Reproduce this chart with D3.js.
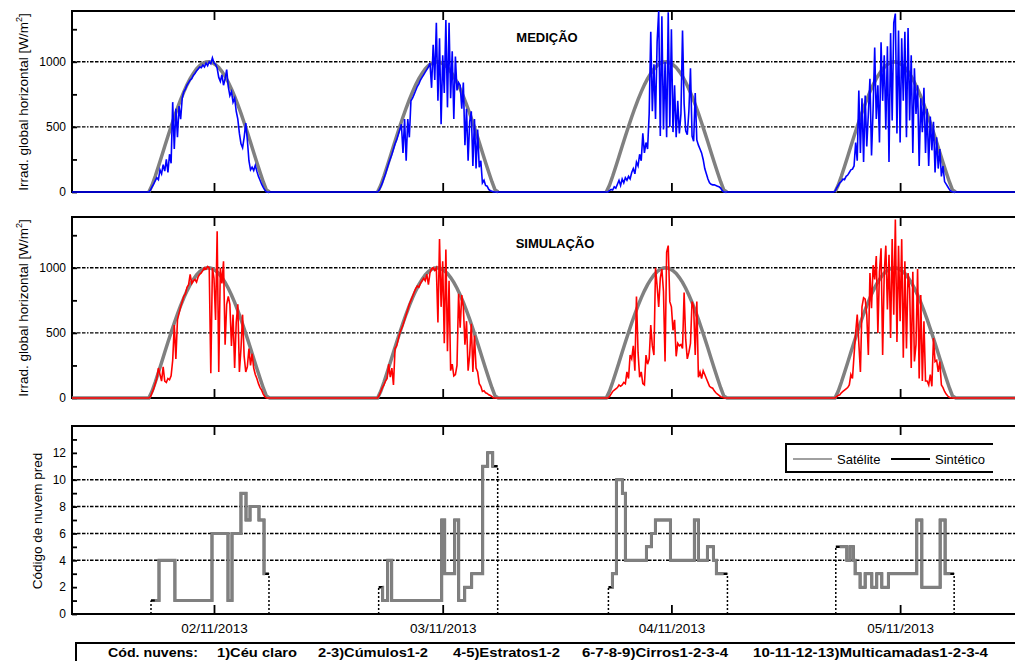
<!DOCTYPE html>
<html>
<head>
<meta charset="utf-8">
<script src="https://cdn.jsdelivr.net/npm/d3@7/dist/d3.min.js"></script>
<style>
  body { margin: 0; background: #fff; }
  svg text { font-family: "Liberation Sans", Arial, sans-serif; fill: #000; }
</style>
</head>
<body>
<svg width="1015" height="661"></svg>
<script>
(function (d3) {

  // dias do eixo x (marca ao meio-dia)
  const dias = ['02/11/2013', '03/11/2013', '04/11/2013', '05/11/2013'];
  const meioDia = [12, 36, 60, 84];

  // irradiancia de ceu claro [W/m2], 20 em 20 min a partir das 05:10
  const ceuClaro = [0, 52, 121, 196, 273, 351, 428, 503, 576, 645,
    709, 769, 823, 870, 911, 945, 970, 988, 998, 1000,
    993, 978, 956, 925, 888, 843, 791, 734, 671, 604,
    532, 458, 382, 304, 227, 151, 79, 15, 0];

  // medicao [W/m2], 10 em 10 min a partir das 05:00
  const medicao02 = [0, 0, 15, 40, 60, 85, 110, 95, 170, 140,
    210, 160, 250, 150, 290, 220, 690, 330, 640, 420,
    660, 560, 720, 770, 790, 820, 840, 860, 870, 895,
    910, 930, 945, 960, 955, 975, 960, 990, 970, 1000,
    985, 1030, 990, 980, 950, 880, 850, 900, 820, 870,
    940, 810, 740, 770, 690, 720, 620, 560, 450, 370,
    340, 420, 530, 400, 240, 170, 190, 165, 205, 160,
    120, 90, 60, 35, 15, 0, 0, 0];
  const medicao03 = [0, 0, 15, 40, 70, 105, 140, 180, 220, 255,
    290, 330, 370, 400, 440, 480, 520, 300, 560, 240,
    560, 420, 700, 720, 750, 780, 810, 830, 860, 880,
    900, 920, 940, 960, 990, 800, 1130, 860, 1300, 700,
    1180, 520, 1050, 760, 1320, 650, 1300, 720, 1080, 560,
    1040, 780, 840, 820, 640, 840, 360, 640, 240, 540,
    620, 200, 560, 180, 480, 190, 240, 70, 90, 50,
    45, 20, 10, 5, 0, 0, 0, 0];
  const medicao04 = [0, 0, 0, 10, 20, 15, 40, 30, 60, 90,
    50, 100, 70, 110, 90, 120, 100, 150, 180, 140,
    230, 200, 290, 240, 450, 300, 380, 330, 600, 1230,
    620, 980, 560, 1150, 1390, 430, 1350, 480, 1000, 420,
    1380, 500, 1250, 460, 820, 420, 700, 450, 600, 1240,
    680, 470, 440, 620, 950, 430, 390, 760, 400, 360,
    330, 300, 250, 180, 140, 100, 70, 60, 55, 55,
    50, 45, 40, 30, 10, 0, 0, 0];
  const medicao05 = [0, 5, 30, 50, 70, 80, 100, 95, 120, 130,
    150, 170, 175, 200, 380, 240, 780, 300, 720, 230,
    740, 350, 600, 870, 280, 640, 1110, 560, 820, 380,
    1150, 700, 1050, 480, 1120, 230, 1220, 550, 1300, 1370,
    450, 1240, 380, 1180, 700, 1230, 420, 1260, 550, 1050,
    300, 950, 600, 820, 200, 720, 460, 800, 300, 640,
    200, 580, 320, 540, 150, 420, 180, 330, 120, 200,
    80, 60, 40, 20, 5, 0, 0, 0];

  // simulacao [W/m2], 10 em 10 min a partir das 05:00
  const simulacao02 = [0, 0, 10, 40, 70, 110, 150, 230, 180, 130,
    240, 130, 120, 150, 140, 170, 290, 560, 300, 600,
    650, 700, 740, 780, 800, 850, 870, 950, 880, 900,
    910, 890, 930, 950, 960, 980, 1000, 990, 1010, 1000,
    190, 1000, 920, 600, 1280, 200, 1000, 880, 1050, 410,
    720, 780, 720, 400, 640, 230, 580, 720, 200, 380,
    640, 320, 200, 240, 380, 250, 340, 230, 180, 150,
    110, 80, 60, 30, 10, 0, 0, 0];
  const simulacao03 = [0, 0, 20, 50, 80, 100, 130, 150, 260, 160,
    230, 100, 380, 400, 450, 500, 530, 560, 600, 640,
    680, 720, 750, 780, 810, 840, 860, 850, 880, 900,
    920, 900, 950, 870, 960, 990, 1000, 980, 1000, 580,
    1220, 700, 1050, 420, 1140, 360, 900, 210, 260, 170,
    180, 250, 800, 540, 790, 700, 410, 590, 210, 330,
    570, 200, 480, 230, 200, 110, 90, 50, 55, 40,
    35, 25, 20, 10, 0, 0, 0, 0];
  const simulacao04 = [0, 0, 0, 10, 30, 50, 60, 70, 80, 100,
    90, 100, 120, 110, 200, 150, 330, 300, 400, 210,
    780, 350, 160, 200, 110, 100, 330, 260, 300, 560,
    400, 330, 1000, 860, 700, 920, 990, 820, 280, 1120,
    1170, 740, 700, 520, 600, 320, 420, 400, 410, 380,
    810, 450, 300, 350, 420, 740, 700, 330, 740, 160,
    200, 150, 210, 180, 150, 120, 90, 80, 75, 55,
    40, 30, 20, 10, 5, 0, 0, 0];
  const simulacao05 = [0, 0, 10, 20, 25, 40, 50, 60, 70, 80,
    100, 180, 150, 330, 500, 640, 420, 200, 700, 770,
    760, 640, 330, 960, 690, 1020, 910, 1090, 500, 970,
    1150, 330, 960, 1170, 680, 1100, 460, 1220, 640, 1370,
    430, 1170, 590, 1220, 310, 1050, 380, 960, 840, 230,
    970, 280, 410, 990, 150, 790, 130, 590, 130, 130,
    100, 180, 90, 460, 280, 290, 200, 280, 100, 80,
    50, 30, 15, 5, 0, 0, 0, 0];

  // codigo de nuvem: [hora local, codigo]; o ultimo ponto marca o fim
  const nuvens02 = [[5.39, 1], [6.23, 4], [7.9, 1], [11.79, 6], [13.47, 1], [13.89, 6],
    [14.83, 9], [15.36, 7], [15.78, 8], [16.72, 7], [17.25, 3], [17.77, 3]];
  const nuvens03 = [[5.28, 2], [5.7, 1], [6.23, 4], [6.65, 1], [11.9, 7], [12.21, 3],
    [13.26, 7], [13.68, 1], [14.31, 2], [15.04, 3], [16.2, 11], [16.72, 12], [17.25, 11], [17.77, 11]];
  const nuvens04 = [[5.39, 2], [5.81, 3], [6.23, 10], [6.86, 9], [7.17, 4], [9.38, 5],
    [9.9, 6], [10.32, 7], [11.9, 4], [14.41, 7], [14.83, 4], [15.78, 5], [16.41, 4], [16.72, 3], [17.88, 3]];
  const nuvens05 = [[5.25, 5], [6.41, 4], [6.75, 5], [7.1, 4], [7.28, 3], [7.8, 2],
    [8.33, 3], [9.03, 2], [9.55, 3], [10.08, 2], [10.77, 3], [13.75, 7], [14.28, 2],
    [16.2, 7], [16.72, 3], [17.67, 3]];

  const legendaNuvens = ['Cód. nuvens:', '1)Céu claro', '2-3)Cúmulos1-2', '4-5)Estratos1-2',
    '6-7-8-9)Cirros1-2-3-4', '10-11-12-13)Multicamadas1-2-3-4'];

  const svg = d3.select('svg');
  const xEsq = 72, xDir = 1015;

  const x = d3.scaleLinear().domain([-2.9, 97]).range([72, 1024]);
  const yMed = d3.scaleLinear().domain([0, 1390]).range([192, 11]);
  const ySim = d3.scaleLinear().domain([0, 1390]).range([398, 217]);
  const yNuv = d3.scaleLinear().domain([0, 14]).range([614, 426]);

  const serie = (porDia, t0, dt) => porDia.flatMap((vals, k) =>
    vals.map((v, i) => ({ t: 24 * k + t0 + i * dt, v })));
  const inteira = pts => [{ t: x.domain()[0], v: 0 }, ...pts, { t: x.domain()[1], v: 0 }];

  const dash = '3.5,1.5,3.5,1.5,3.5,1.5,1.5,1.5';

  const moldura = (y, grade, maiores, menores, rotulosX) => {
    const [yBase, yTopo] = y.range();
    const g = svg.append('g');

    g.selectAll('line.grade').data(grade).enter().append('line')
      .attr('class', 'grade')
      .attr('x1', xEsq).attr('x2', xDir)
      .attr('y1', d => y(d)).attr('y2', d => y(d))
      .attr('stroke', '#000').attr('stroke-width', 1.4)
      .attr('stroke-dasharray', dash);

    const eixoY = g.append('g').attr('transform', `translate(${xEsq},0)`)
      .call(d3.axisLeft(y).tickValues(maiores).tickSize(-5).tickPadding(6)
        .tickFormat(d3.format('d')));
    const eixoYm = g.append('g').attr('transform', `translate(${xEsq},0)`)
      .call(d3.axisLeft(y).tickValues(menores).tickSize(-5).tickFormat(''));

    const eixoXb = g.append('g').attr('transform', `translate(0,${yBase})`)
      .call(d3.axisBottom(x).tickValues(meioDia).tickSize(-9).tickPadding(9)
        .tickFormat((d, i) => rotulosX ? dias[i] : ''));
    const eixoXt = g.append('g').attr('transform', `translate(0,${yTopo})`)
      .call(d3.axisTop(x).tickValues(meioDia).tickSize(-9).tickFormat(''));

    [eixoY, eixoYm, eixoXb, eixoXt].forEach(a => {
      a.select('.domain').remove();
      a.selectAll('.tick line').attr('stroke-width', 1.8);
      a.attr('font-family', null).attr('font-size', null);
    });
    eixoY.selectAll('text').style('font-size', '12px');
    eixoXb.selectAll('text').style('font-size', '13.5px');

    g.append('path')
      .attr('d', `M${xDir + 5},${yTopo}H${xEsq}V${yBase}H${xDir + 5}`)
      .attr('fill', 'none').attr('stroke', '#000').attr('stroke-width', 2);

    const id = 'clip' + Math.round(yTopo);
    svg.append('clipPath').attr('id', id).append('rect')
      .attr('x', xEsq).attr('y', yTopo).attr('width', xDir - xEsq).attr('height', yBase - yTopo + 2);
    return svg.append('g').attr('clip-path', `url(#${id})`);
  };

  const linha = y => d3.line().x(d => x(d.t)).y(d => y(d.v));

  // ---- MEDICAO
  const gMed = moldura(yMed, [500, 1000], [0, 500, 1000], [250, 750, 1250], false);
  [0, 1, 2, 3].forEach(k => {
    gMed.append('path')
      .datum(serie([ceuClaro], 24 * k + 5 + 1 / 6, 1 / 3))
      .attr('d', linha(yMed))
      .attr('fill', 'none').attr('stroke', '#808080').attr('stroke-width', 3.5);
  });
  gMed.append('path')
    .datum(inteira(serie([medicao02, medicao03, medicao04, medicao05], 5, 1 / 6)))
    .attr('d', linha(yMed))
    .attr('fill', 'none').attr('stroke', '#0000ff').attr('stroke-width', 1.6);

  // ---- SIMULACAO
  const gSim = moldura(ySim, [500, 1000], [0, 500, 1000], [250, 750, 1250], false);
  gSim.append('path')
    .datum(inteira(serie([ceuClaro, ceuClaro, ceuClaro, ceuClaro], 5 + 1 / 6, 1 / 3)
      .sort((a, b) => a.t - b.t)))
    .attr('d', linha(ySim))
    .attr('fill', 'none').attr('stroke', '#808080').attr('stroke-width', 3.5);
  gSim.append('path')
    .datum(inteira(serie([simulacao02, simulacao03, simulacao04, simulacao05], 5, 1 / 6)))
    .attr('d', linha(ySim))
    .attr('fill', 'none').attr('stroke', '#ff0000').attr('stroke-width', 1.6);

  // ---- CODIGO DE NUVEM
  const gNuv = moldura(yNuv, [4, 6, 8, 10], [0, 2, 4, 6, 8, 10, 12], [1, 3, 5, 7, 9, 11, 13], true);
  const degrau = d3.line().x(d => x(d.t)).y(d => yNuv(d.v)).curve(d3.curveStepAfter);
  [nuvens02, nuvens03, nuvens04, nuvens05].forEach((dia, k) => {
    const pts = dia.map(([h, v]) => ({ t: 24 * k + h, v }));
    const ini = pts[0], fim = pts[pts.length - 1];
    [ini, fim].forEach(p => {
      gNuv.append('line')
        .attr('x1', x(p.t)).attr('x2', x(p.t))
        .attr('y1', yNuv(0)).attr('y2', yNuv(p.v))
        .attr('stroke', '#000').attr('stroke-width', 1.5).attr('stroke-dasharray', '2,2');
    });
    gNuv.append('path').datum(pts).attr('d', degrau)
      .attr('fill', 'none').attr('stroke', '#000').attr('stroke-width', 2.5);
    const sat = pts.map(p => ({ ...p }));
    sat[0].t = Math.min(sat[0].t + 0.4, sat[1].t);
    sat[sat.length - 1].t -= 0.4;
    gNuv.append('path').datum(sat).attr('d', degrau)
      .attr('fill', 'none').attr('stroke', '#808080').attr('stroke-width', 3);
  });

  // ---- titulos
  svg.append('text').attr('x', 547).attr('y', 42).attr('text-anchor', 'middle')
    .style('font-size', '13px').style('font-weight', 'bold').text('MEDIÇÃO');
  svg.append('text').attr('x', 555).attr('y', 248).attr('text-anchor', 'middle')
    .style('font-size', '13px').style('font-weight', 'bold').text('SIMULAÇÃO');

  // ---- rotulos dos eixos y
  const rotuloIrr = (cx, cy) => {
    const t = svg.append('text')
      .attr('transform', `translate(${cx},${cy}) rotate(-90)`)
      .attr('text-anchor', 'middle').style('font-size', '13.5px');
    t.append('tspan').text('Irrad. global horizontal [W/m');
    t.append('tspan').attr('dy', -6).style('font-size', '9px').text('2');
    t.append('tspan').attr('dy', 6).text(']');
  };
  rotuloIrr(28, 102);
  rotuloIrr(28, 308);
  svg.append('text')
    .attr('transform', 'translate(42,521) rotate(-90)')
    .attr('text-anchor', 'middle').style('font-size', '13.5px')
    .text('Código de nuvem pred');

  // ---- legenda
  const leg = svg.append('g');
  leg.append('path').attr('d', 'M993,444H786V472H993')
    .attr('fill', 'none').attr('stroke', '#000').attr('stroke-width', 2);
  leg.append('line').attr('x1', 793).attr('x2', 832).attr('y1', 459).attr('y2', 459)
    .attr('stroke', '#808080').attr('stroke-width', 1.5);
  leg.append('text').attr('x', 837).attr('y', 464).style('font-size', '13px').text('Satélite');
  leg.append('line').attr('x1', 891).attr('x2', 930).attr('y1', 459).attr('y2', 459)
    .attr('stroke', '#000').attr('stroke-width', 2);
  leg.append('text').attr('x', 935).attr('y', 464).style('font-size', '13px').text('Sintético');

  // ---- caixa dos codigos de nuvem
  svg.append('path').attr('d', 'M1020,643H76V665')
    .attr('fill', 'none').attr('stroke', '#000').attr('stroke-width', 2);
  const posLeg = [[108, 90], [217, 80], [318, 110], [453, 107], [582, 146], [753, 235]];
  svg.selectAll('text.cod').data(legendaNuvens).enter().append('text')
    .attr('class', 'cod')
    .attr('x', (d, i) => posLeg[i][0]).attr('y', 657)
    .attr('textLength', (d, i) => posLeg[i][1]).attr('lengthAdjust', 'spacingAndGlyphs')
    .style('font-size', '13px').style('font-weight', 'bold')
    .text(d => d);

}(d3));
</script>
</body>
</html>
